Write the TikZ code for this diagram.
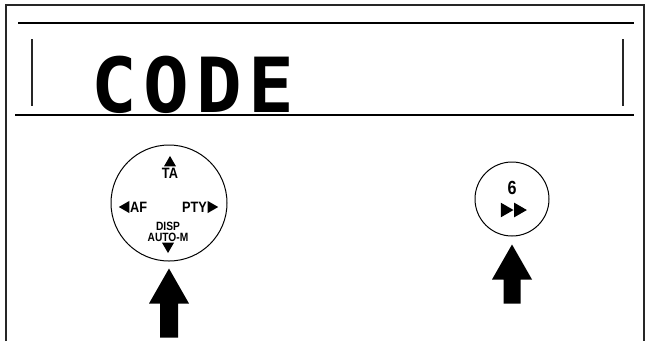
\documentclass[tikz,border=0pt]{standalone}
\usepackage{fontspec}
\usetikzlibrary{positioning,shapes.geometric}
\newfontfamily\lcdfont{DejaVu Sans Mono}[LetterSpace=9]
\newfontfamily\keyfont{Liberation Sans}[FakeStretch=0.85]

\begin{document}
\begin{tikzpicture}[x=1pt, y=-1pt,
            frame/.style={draw=black!85, line width=1.2pt},
            rule/.style={draw=black, line width=1.6pt},
            button/.style={circle, draw=black, line width=1pt, inner sep=0pt},
            keylabel/.style={font=\keyfont\bfseries\fontsize{15}{15}\selectfont, inner sep=0pt},
            smalllabel/.style={font=\keyfont\bfseries\fontsize{12}{12}\selectfont, inner sep=0pt},
            tri/.style={regular polygon, regular polygon sides=3, fill=black, inner sep=0pt, minimum size=14pt},
            pointer/.style={fill=black}
        ]
        \useasboundingbox (0,0) rectangle (648,341);

        % Rahmen und Anzeige
        \draw[frame] (6,341) -- (6,5) -- (644,5) -- (644,341);
        \draw[rule] (18,23) -- (634,23);
        \draw[rule, line width=2pt] (15,115) -- (634,115);
        \draw[frame] (32,39) -- (32,106);
        \draw[frame] (623,39) -- (623,106);
        \node[anchor=base west, inner sep=0pt, font=\lcdfont\bfseries\fontsize{76}{76}\selectfont] (code) at (91,112) {CODE};

        % Wahlknopf links
        \node[button, minimum size=116pt] (dial) at (169,203) {};
        \node[keylabel] (ta) at (170,173) {TA};
        \node[tri, above=1pt of ta] (up) {};
        \node[keylabel, anchor=west] (af) at (130,207) {AF};
        \node[tri, shape border rotate=90, left=0.5pt of af] (left) {};
        \node[keylabel, anchor=east] (pty) at (207,207) {PTY};
        \node[tri, shape border rotate=-90, right=0.5pt of pty] (right) {};
        \node[smalllabel] (disp) at (168,226) {DISP};
        \node[smalllabel, below=2pt of disp] (auto) {AUTO-M};
        \node[tri, shape border rotate=180, below=1pt of auto] (down) {};

        % Taste 6 rechts
        \node[button, minimum size=74pt] (ffwd) at (512,199) {};
        \node[keylabel, font=\keyfont\bfseries\fontsize{19}{19}\selectfont] (six) at (512,188) {6};
        \node[tri, shape border rotate=-90, minimum size=17pt] (ffa) at (505,210) {};
        \node[tri, shape border rotate=-90, minimum size=17pt, right=0pt of ffa] (ffb) {};

        % Zeigepfeile
        \coordinate[below=7pt of dial] (tipL);
        \coordinate[below=8pt of ffwd] (tipR);
        \fill[pointer] (tipL) -- ++(20,35) -- ++(-11,0) -- ++(0,34) -- ++(-18,0) -- ++(0,-34) -- ++(-11,0) -- cycle;
        \fill[pointer] (tipR) -- ++(20,35) -- ++(-11.5,0) -- ++(0,24) -- ++(-17,0) -- ++(0,-24) -- ++(-11.5,0) -- cycle;
\end{tikzpicture}
\end{document}
